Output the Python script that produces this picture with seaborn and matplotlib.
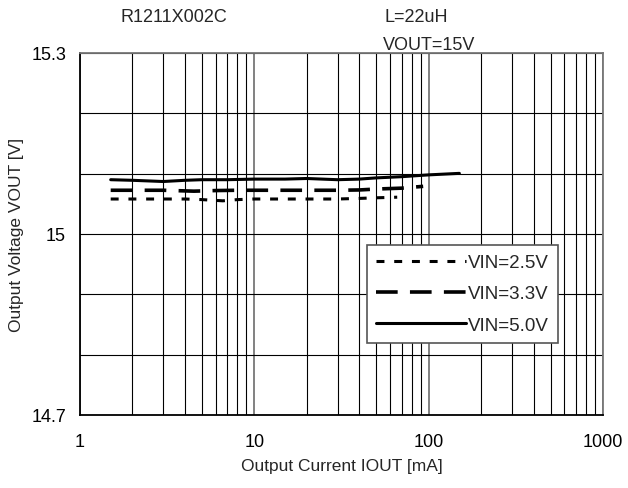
import numpy as np
import pandas as pd
import matplotlib
matplotlib.use("Agg")
import matplotlib.pyplot as plt
import seaborn as sns
from matplotlib.ticker import FixedLocator, NullFormatter, FixedFormatter

# Data
i_25 = [1.5, 2, 3, 4, 5, 6.6, 8, 10, 15, 20, 30, 40, 50, 66]
v_25 = [15.058, 15.058, 15.058, 15.058, 15.057, 15.055, 15.057, 15.058, 15.058, 15.058, 15.058, 15.059, 15.060, 15.061]
i_33 = [1.5, 2, 3, 4.5, 6, 8, 10, 15, 20, 30, 40, 50, 70, 93]
v_33 = [15.0725, 15.0725, 15.0725, 15.071, 15.072, 15.0725, 15.0725, 15.0725, 15.0725, 15.0725, 15.073, 15.0745, 15.076, 15.079]
i_50 = [1.5, 2, 3, 4, 5, 7, 10, 15, 20, 30, 40, 50, 70, 100, 150]
v_50 = [15.090, 15.089, 15.087, 15.089, 15.090, 15.090, 15.091, 15.091, 15.092, 15.090, 15.091, 15.093, 15.095, 15.098, 15.1005]
series = ["VIN=2.5V", "VIN=3.3V", "VIN=5.0V"]

sns.set_theme(style="white")
plt.rcParams['font.family'] = ['Liberation Sans', 'DejaVu Sans']

fig = plt.figure(figsize=(6.28, 4.89), dpi=100)
ax = fig.add_axes([80/628, 1-416/489, (603-80)/628, (416-54)/489])

styles = [dict(lw=2.2, dashes=(2.6, 3.2)), dict(lw=2.6, dashes=(6.0, 3.4)), dict(lw=2.2, dashes=())]
for xs, ys, name, st in zip([i_25, i_33, i_50], [v_25, v_33, v_50], series, styles):
    df = pd.DataFrame({"I": xs, "V": ys})
    if st["dashes"]:
        sns.lineplot(data=df, x="I", y="V", ax=ax, color="black", lw=st["lw"], label=name,
                     linestyle=(0, st["dashes"]))
    else:
        sns.lineplot(data=df, x="I", y="V", ax=ax, color="black", lw=st["lw"], label=name)

ax.set_xscale("log")
ax.set_xlim(1, 1000)
ax.set_ylim(14.7, 15.3)

# grid
ax.xaxis.set_major_locator(FixedLocator([1, 10, 100, 1000]))
ax.xaxis.set_major_formatter(FixedFormatter(["1", "10", "100", "1000"]))
ax.xaxis.set_minor_locator(FixedLocator([m * 10**e for e in range(3) for m in range(2, 10)]))
ax.xaxis.set_minor_formatter(NullFormatter())
ax.set_yticks([14.7, 14.8, 14.9, 15.0, 15.1, 15.2, 15.3])
ax.set_yticklabels(["14.7", "", "", "15", "", "", "15.3"])
ax.grid(True, which="major", axis="x", color="#777777", lw=1.3)
ax.grid(True, which="minor", axis="x", color="black", lw=0.8)
ax.grid(True, which="major", axis="y", color="black", lw=0.8)
ax.tick_params(axis="both", which="both", length=0, labelsize=13, colors="black")
ax.tick_params(axis="x", pad=13)
ax.tick_params(axis="y", pad=10)
for s in ax.spines.values():
    s.set_color("#777777")
    s.set_linewidth(1.3)
ax.spines["left"].set_color("black")
ax.spines["bottom"].set_color("black")

ax.set_xlabel("Output Current IOUT [mA]", fontsize=12.5, labelpad=6)
ax.set_ylabel("Output Voltage VOUT [V]", fontsize=12.5, labelpad=5)

leg = ax.legend(loc="lower right", bbox_to_anchor=((558-80)/523, (416-344)/362), fontsize=13.5,
                frameon=True, fancybox=False, edgecolor="#555555", framealpha=1,
                handlelength=4.8, handletextpad=0.1, borderpad=0.5, labelspacing=0.75,
                borderaxespad=0)
leg.get_frame().set_linewidth(1.2)

fig.text(120/628, 1-18/489, "R1211X002C", fontsize=13, va="center", ha="left")
fig.text(385/628, 1-18/489, "L=22uH", fontsize=13, va="center", ha="left")
fig.text(383/628, 1-45/489, "VOUT=15V", fontsize=13, va="center", ha="left")

fig.savefig("out.png", dpi=100)
